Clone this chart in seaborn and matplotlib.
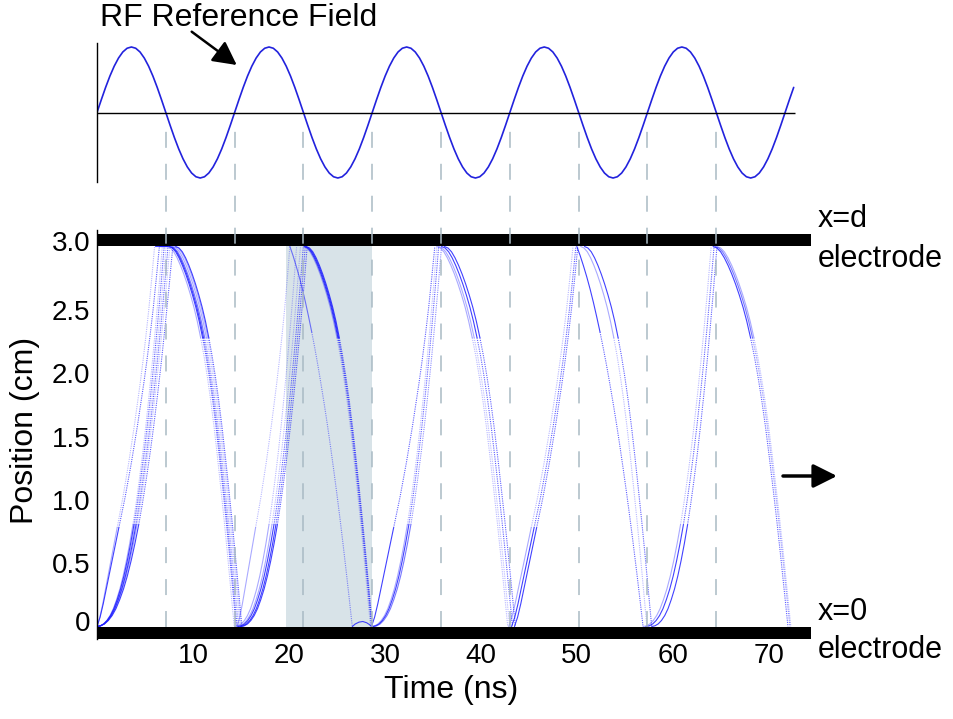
import numpy as np
import pandas as pd
import matplotlib
matplotlib.use("Agg")
import matplotlib.pyplot as plt
import matplotlib.transforms as mtransforms
import seaborn as sns

sns.set_style("white")
plt.rcParams["font.family"] = ["Liberation Sans", "DejaVu Sans"]
plt.rcParams["lines.scale_dashes"] = False
plt.rcParams["text.color"] = "black"
plt.rcParams["xtick.color"] = "black"
plt.rcParams["ytick.color"] = "black"
plt.rcParams["axes.labelcolor"] = "black"

# ---------------- data ----------------
GAP_CM = 3.0                      # electrode spacing d
RF_PERIOD_NS = 14.34
RF_END_NS = 72.6
# one period of the RF reference field, 32 samples
RF_ONE_PERIOD = [0.000, 0.195, 0.383, 0.556, 0.707, 0.831, 0.924, 0.981,
                 1.000, 0.981, 0.924, 0.831, 0.707, 0.556, 0.383, 0.195,
                 0.000, -0.195, -0.383, -0.556, -0.707, -0.831, -0.924, -0.981,
                 -1.000, -0.981, -0.924, -0.831, -0.707, -0.556, -0.383, -0.195]
HALF_PERIOD_MARKS_NS = [7.17, 14.34, 21.51, 28.68, 35.85, 43.02, 50.19, 57.36, 64.53]
SHADE_NS = [19.7, 28.68]

X_TICKS = [10, 20, 30, 40, 50, 60, 70]
Y_TICKS = [0, 0.5, 1.0, 1.5, 2.0, 2.5, 3.0]
Y_TICK_LABELS = ["0", "0.5", "1.0", "1.5", "2.0", "2.5", "3.0"]

# transit shapes: fraction of gap covered vs fraction of transit time
PROFILE_U = [0.00, 0.05, 0.10, 0.15, 0.20, 0.25, 0.30, 0.35, 0.40, 0.45, 0.50,
             0.55, 0.60, 0.65, 0.70, 0.75, 0.80, 0.85, 0.90, 0.95, 1.00]
RISE_FAST = [0.000, 0.025, 0.060, 0.100, 0.140, 0.180, 0.220, 0.260, 0.300, 0.340, 0.385,
             0.430, 0.480, 0.530, 0.585, 0.640, 0.700, 0.765, 0.835, 0.915, 1.000]
RISE_SLOW = [0.000, 0.002, 0.007, 0.016, 0.029, 0.047, 0.071, 0.099, 0.133, 0.173, 0.218,
             0.268, 0.325, 0.388, 0.456, 0.531, 0.612, 0.699, 0.793, 0.893, 1.000]
FALL_SLOW = [0.000, 0.004, 0.014, 0.030, 0.050, 0.073, 0.099, 0.128, 0.160, 0.197, 0.240,
             0.288, 0.343, 0.405, 0.475, 0.553, 0.635, 0.720, 0.810, 0.905, 1.000]
FALL_FAST = [0.000, 0.024, 0.051, 0.080, 0.112, 0.147, 0.185, 0.225, 0.268, 0.314, 0.363,
             0.414, 0.468, 0.525, 0.585, 0.647, 0.712, 0.780, 0.851, 0.924, 1.000]

# ion transits from x=0 to x=d
RISE_T0 = [0.0, 0.0, 0.0, 0.0, 0.0, 0.0, 0.0, 0.0,
           14.6, 14.4, 14.6, 14.7, 14.9, 15.0,
           28.6, 28.7, 28.8, 28.6,
           42.9, 43.2, 43.5,
           56.9, 57.2, 57.8]
RISE_T1 = [6.0, 6.5, 6.8, 7.0, 7.2, 7.4, 7.6, 7.9,
           20.1, 20.8, 21.2, 21.5, 21.7, 21.9,
           35.2, 35.6, 35.9, 35.4,
           49.6, 49.9, 50.1,
           64.0, 64.3, 64.6]
RISE_SHAPE = ["fast", "fast", "slow", "slow", "slow", "slow", "slow", "slow",
              "fast", "slow", "slow", "slow", "slow", "slow",
              "fast", "slow", "slow", "slow",
              "fast", "fast", "fast",
              "slow", "slow", "slow"]
RISE_TONE = ["light", "dark", "light", "dark", "light", "dark", "light", "dark",
             "light", "light", "light", "dark", "dark", "dark",
             "dark", "dark", "mid", "light",
             "light", "dark", "dark",
             "light", "dark", "dark"]

# ion transits from x=d back to x=0
FALL_T0 = [7.3, 7.5, 7.6, 7.7, 7.9, 8.1, 8.2,
           20.1, 21.5, 21.6, 21.7, 21.8,
           35.4, 35.6, 35.9, 36.2,
           50.0, 50.4, 50.8,
           64.2, 64.4, 64.6]
FALL_T1 = [14.3, 14.5, 14.6, 14.75, 14.9, 15.0, 15.1,
           26.6, 28.5, 28.6, 28.65, 28.7,
           42.8, 43.0, 43.3, 43.6,
           56.9, 57.3, 57.8,
           72.0, 72.2, 72.3]
FALL_SHAPE = ["slow", "slow", "slow", "slow", "slow", "slow", "slow",
              "fast", "slow", "slow", "slow", "slow",
              "slow", "slow", "slow", "slow",
              "fast", "slow", "slow",
              "slow", "slow", "slow"]
FALL_TONE = ["light", "dark", "dark", "mid", "light", "light", "dark",
             "mid", "light", "dark", "dark", "dark",
             "light", "light", "dark", "dark",
             "dark", "light", "dark",
             "dark", "mid", "light"]

# ions waiting on the x=d electrode
HOLD_T0 = [6.0, 6.5]
HOLD_T1 = [7.3, 7.5]
# small rebound on the x=0 electrode
BOUNCE_T = [26.6, 26.9, 27.3, 27.7, 28.1, 28.4, 28.6]
BOUNCE_X = [0.0, 0.020, 0.035, 0.040, 0.030, 0.015, 0.0]

# ---------------- build tables ----------------
PROFILES = {("up", "fast"): RISE_FAST, ("up", "slow"): RISE_SLOW,
            ("down", "fast"): FALL_FAST, ("down", "slow"): FALL_SLOW}
U = np.array(PROFILE_U)
rows = []
uid = 0
def add_transit(t0, t1, direction, shape, tone):
    global uid
    s = np.array(PROFILES[(direction, shape)])
    t = t0 + U * (t1 - t0)
    x = s * GAP_CM if direction == "up" else GAP_CM * (1 - s)
    split = int(np.argmax(s > 0.22))
    for part, sl in (("slow", slice(0, split + 1)), ("fast", slice(split, None))):
        for ti, xi in zip(t[sl], x[sl]):
            rows.append((uid, part, tone, ti, xi))
        uid += 1

for a, b, sh, tn in zip(RISE_T0, RISE_T1, RISE_SHAPE, RISE_TONE):
    add_transit(a, b, "up", sh, tn)
for a, b, sh, tn in zip(FALL_T0, FALL_T1, FALL_SHAPE, FALL_TONE):
    add_transit(a, b, "down", sh, tn)
for a, b in zip(HOLD_T0, HOLD_T1):
    rows.append((uid, "slow", "dark", a, GAP_CM)); rows.append((uid, "slow", "dark", b, GAP_CM)); uid += 1
for ti, xi in zip(BOUNCE_T, BOUNCE_X):
    rows.append((uid, "slow", "dark", ti, xi))
uid += 1
traj = pd.DataFrame(rows, columns=["uid", "part", "tone", "t", "x"])

k = np.arange(0, 400)
rf = pd.DataFrame({"t": k * RF_PERIOD_NS / len(RF_ONE_PERIOD),
                   "v": np.array(RF_ONE_PERIOD)[k % len(RF_ONE_PERIOD)]})
rf = rf[rf["t"] <= RF_END_NS + 1e-9]

# ---------------- figure ----------------
W, H = 954, 719
fig = plt.figure(figsize=(W / 100, H / 100), dpi=100)
ax = fig.add_axes([97 / W, 1 - 638.6 / H, 714 / W, 408.6 / H])
ax_top = fig.add_axes([97 / W, 1 - 182 / H, 714 / W, 139 / H])
for a in (ax, ax_top):
    a.patch.set_visible(False)

XMAX = 74.4
BAR = 0.095
BLUE = "#2020ff"

# top panel: RF field
sns.lineplot(data=rf, x="t", y="v", ax=ax_top, color="#2222dd", lw=1.2, sort=False)
ax_top.hlines(0, 0, RF_END_NS + 0.1, color="black", lw=1.0)
ax_top.set_xlim(0, XMAX)
ax_top.set_ylim(-1.061, 1.061)
ax_top.set_xticks([]); ax_top.set_yticks([])
ax_top.set_xlabel(""); ax_top.set_ylabel("")
for side in ("top", "right", "bottom"):
    ax_top.spines[side].set_visible(False)
ax_top.spines["left"].set_linewidth(1.0)
ax_top.spines["left"].set_color("black")

# bottom panel
ax.set_xlim(0, XMAX)
ax.set_ylim(-BAR, 3.13)
ax.fill_between(SHADE_NS, 0, GAP_CM, color="#d8e3e8", lw=0, zorder=0.5)

tone_alpha = {"dark": 0.85, "mid": 0.6, "light": 0.38}
for part in ("slow", "fast"):
    for tone, alpha in tone_alpha.items():
        sub = traj[(traj["part"] == part) & (traj["tone"] == tone)]
        if sub.empty:
            continue
        if part == "slow":
            ls, a_, lw = "-", alpha, 0.8
        else:
            ls, a_, lw = (0, (0.8, 0.8)), alpha * 0.85, 0.8
        sns.lineplot(data=sub, x="t", y="x", units="uid", estimator=None, sort=False,
                     ax=ax, color=BLUE, alpha=a_, lw=lw, linestyle=ls,
                     legend=False, zorder=2)

ax.axhspan(GAP_CM, GAP_CM + BAR, color="black", lw=0, zorder=3)
ax.axhspan(-BAR, 0, color="black", lw=0, zorder=3)

for tm in HALF_PERIOD_MARKS_NS:
    ax.plot([tm, tm], [0, 4.02], color="#a9bac4", lw=1.1,
            linestyle=(0, (11.5, 11.5)), clip_on=False, zorder=4)

ax.set_xticks(X_TICKS)
ax.set_xticklabels([str(v) for v in X_TICKS])
ax.set_yticks(Y_TICKS)
ax.set_yticklabels(Y_TICK_LABELS)
ax.tick_params(axis="x", length=0, labelsize=20, pad=3)
ax.tick_params(axis="y", direction="in", length=5, width=1.0, labelsize=20, pad=5)
ax.set_xlabel(""); ax.set_ylabel("")
for side in ("top", "right", "bottom"):
    ax.spines[side].set_visible(False)
ax.spines["left"].set_linewidth(1.0)
ax.spines["left"].set_color("black")

# nudge the end labels off the electrode bars, as in the original
ylabels = ax.get_yticklabels()
ylabels[0].set_transform(ylabels[0].get_transform() +
                         mtransforms.ScaledTranslation(0, 6 / 100, fig.dpi_scale_trans))
ylabels[-1].set_transform(ylabels[-1].get_transform() +
                          mtransforms.ScaledTranslation(0, 5 / 100, fig.dpi_scale_trans))

# texts and arrows
def fx(px): return px / W
def fy(py): return 1 - py / H

fig.text(fx(100), fy(26), "RF Reference Field", fontsize=23, ha="left", va="baseline")
fig.text(fx(818), fy(227), "x=d", fontsize=22, ha="left", va="baseline")
fig.text(fx(818), fy(267), "electrode", fontsize=22, ha="left", va="baseline")
fig.text(fx(818), fy(620), "x=0", fontsize=22, ha="left", va="baseline")
fig.text(fx(818), fy(658), "electrode", fontsize=22, ha="left", va="baseline")
fig.text(fx(25), fy(430), "Position (cm)", fontsize=23, rotation=90, ha="center", va="center")
fig.text(fx(451), fy(690), "Time (ns)", fontsize=23, ha="center", va="center")

fig.add_artist(matplotlib.patches.FancyArrowPatch(
    (fx(191.7), fy(31.7)), (fx(236.7), fy(65)), transform=fig.transFigure,
    arrowstyle="-|>,head_length=0.42,head_width=0.22", mutation_scale=34,
    color="black", lw=1.8, shrinkA=0, shrinkB=0))
fig.add_artist(matplotlib.patches.FancyArrowPatch(
    (fx(783), fy(476)), (fx(837), fy(476)), transform=fig.transFigure,
    arrowstyle="-|>,head_length=0.4,head_width=0.2", mutation_scale=36,
    color="black", lw=2.5, shrinkA=0, shrinkB=0))

fig.savefig("out.png", dpi=100)
